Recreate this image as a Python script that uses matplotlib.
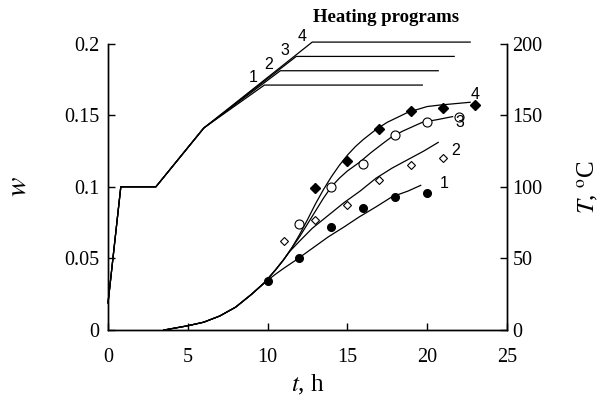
import matplotlib.pyplot as plt

plt.rcParams['font.family'] = ['Liberation Serif', 'DejaVu Serif']
plt.rcParams['mathtext.fontset'] = 'stix'

# heating programs (t, h ; T, degC)
prog_t = [[0, 0.8, 3, 6, 9.8, 19.7],
          [0, 0.8, 3, 6, 10.8, 20.7],
          [0, 0.8, 3, 6, 11.8, 21.7],
          [0, 0.8, 3, 6, 12.8, 22.7]]
prog_T = [[19, 100, 100, 141, 171, 171],
          [19, 100, 100, 141, 181, 181],
          [19, 100, 100, 141, 191, 191],
          [19, 100, 100, 141, 201, 201]]

# calculated curves w(t)
base_t = [3.5, 4.0, 5, 6, 7, 8, 8.5, 9, 9.5, 9.8]
base_w = [0.0, 0.001, 0.003, 0.0055, 0.0098, 0.016, 0.0205, 0.025, 0.030, 0.033]
c1_t = [10.5, 11, 11.8, 12.8, 13.8, 14.8, 15.75, 16.8, 17.8, 18.8, 19.6]
c1_w = [0.039, 0.043, 0.049, 0.057, 0.065, 0.072, 0.079, 0.086, 0.093, 0.097, 0.101]
c2_t = [10.5, 11, 11.4, 12, 12.8, 13.8, 14.8, 15.8, 16.8, 17.8, 18.8, 19.8, 20.7]
c2_w = [0.042, 0.049, 0.055, 0.062, 0.071, 0.080, 0.089, 0.097, 0.106, 0.113, 0.119, 0.125, 0.131]
c3_t = [10.5, 11, 11.5, 12, 12.5, 13, 13.5, 14, 14.5, 15, 15.75, 16.5, 17.2, 17.8, 18.5, 19.7, 20.7, 21.6]
c3_w = [0.042, 0.049, 0.057, 0.065, 0.074, 0.083, 0.092, 0.100, 0.106, 0.111, 0.117, 0.124, 0.130, 0.135, 0.139, 0.145, 0.147, 0.149]
c4_t = [10.5, 11, 11.5, 12, 12.5, 13, 13.5, 14, 14.5, 15, 15.5, 16, 16.8, 17.5, 18.8, 20, 20.75, 22.7]
c4_w = [0.042, 0.049, 0.057, 0.0665, 0.077, 0.088, 0.098, 0.107, 0.115, 0.122, 0.128, 0.133, 0.140, 0.145, 0.152, 0.156, 0.157, 0.159]

# experimental points
e1_t = [10, 12, 14, 16, 18, 20]
e1_w = [0.034, 0.050, 0.072, 0.085, 0.093, 0.096]
e2_t = [11, 13, 15, 17, 19, 21]
e2_w = [0.062, 0.077, 0.087, 0.105, 0.115, 0.120]
e3_t = [12, 14, 16, 18, 20, 22]
e3_w = [0.074, 0.100, 0.116, 0.136, 0.145, 0.149]
e4_t = [13, 15, 17, 19, 21, 23]
e4_w = [0.099, 0.118, 0.140, 0.153, 0.155, 0.157]

fig = plt.figure(figsize=(6.07, 4.03), dpi=100)
ax = fig.add_axes([0.178, 0.181, 0.657, 0.711])
ax2 = ax.twinx()

lw = 0.9
for ct, cw in [(c1_t, c1_w), (c2_t, c2_w), (c3_t, c3_w), (c4_t, c4_w)]:
    ax.plot(base_t + ct, base_w + cw, color='black', lw=lw)

ax.plot(e1_t, e1_w, 'o', color='black', ms=5.5, ls='none')
ax.plot(e2_t, e2_w, 'D', mfc='white', mec='black', mew=0.8, ms=4.5, ls='none')
ax.plot(e3_t, e3_w, 'o', mfc='white', mec='black', mew=0.8, ms=6.5, ls='none')
ax.plot(e4_t, e4_w, 'D', color='black', ms=5, ls='none')

for t, T in zip(prog_t, prog_T):
    ax2.plot(t, T, color='black', lw=lw, clip_on=False)

lab = dict(family=['Liberation Sans', 'DejaVu Sans'], fontsize=11.5)
# labels at the curves
ax.text(20.8, 0.099, '1', **lab)
ax.text(21.5, 0.122, '2', **lab)
ax.text(21.8, 0.142, '3', **lab)
ax.text(22.7, 0.161, '4', **lab)
# labels at the programs
ax2.text(8.8, 173, '1', **lab)
ax2.text(9.8, 182, '2', **lab)
ax2.text(10.8, 192, '3', **lab)
ax2.text(11.9, 202, '4', **lab)
ax2.text(17.4, 218, 'Heating programs', fontsize=13.5, fontweight='bold',
         ha='center', va='center')

ax.set_xlim(0, 25)
ax.set_ylim(0, 0.2)
ax2.set_ylim(0, 200)
ax.set_xticks([0, 5, 10, 15, 20, 25])
ax.set_yticks([0, 0.05, 0.1, 0.15, 0.2])
ax.set_yticklabels(['0', '0.05', '0.1', '0.15', '0.2'])
ax2.set_yticks([0, 50, 100, 150, 200])

for a in (ax, ax2):
    a.spines['top'].set_visible(False)
    for s in a.spines.values():
        s.set_linewidth(1.0)
ax.tick_params(direction='in', length=5, width=1, labelsize=14.5, pad=6)
ax.tick_params(axis='x', pad=13)
ax2.tick_params(direction='in', length=5, width=1, labelsize=14.5, pad=4)

ax.set_xlabel('$t$, h', fontsize=18, labelpad=4)
ax.set_ylabel('$w$', fontsize=21, labelpad=24)
ax2.set_ylabel('$T$, $^\\mathrm{o}$C', fontsize=18, labelpad=24)

fig.savefig('out.png', dpi=100)
